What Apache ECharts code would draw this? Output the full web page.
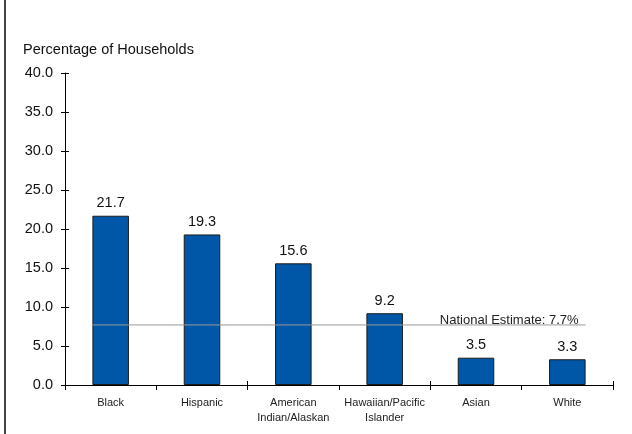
<!DOCTYPE html>
<html>
<head>
<meta charset="utf-8">
<script src="https://cdn.jsdelivr.net/npm/echarts@6/dist/echarts.min.js"></script>
<style>
html,body{margin:0;padding:0;background:#fff;}
#chart{width:632px;height:434px;}
</style>
</head>
<body>
<div id="chart"></div>
<script>
const categories = ['Black', 'Hispanic', 'American\nIndian/Alaskan', 'Hawaiian/Pacific\nIslander', 'Asian', 'White'];
const values = [21.7, 19.3, 15.6, 9.2, 3.5, 3.3];
const nationalEstimate = 7.7;
const nationalLabel = 'National Estimate: 7.7%';
const yTitle = 'Percentage of Households';
const yMin = 0, yMax = 40, yInterval = 5;

const barFrac = 0.4;
const lineStart = -barFrac / 2;
const lineEnd = categories.length - 1 + barFrac / 2;

const FONT = 'Liberation Sans, Arial, sans-serif';
const chart = echarts.init(document.getElementById('chart'));
chart.setOption({
  animation: false,
  backgroundColor: '#fff',
  textStyle: { fontFamily: FONT },
  title: {
    text: yTitle, left: 18, top: 37,
    textStyle: { fontFamily: FONT, fontSize: 14.5, fontWeight: 'normal', color: '#111' }
  },
  graphic: [{
    type: 'line', shape: { x1: 5, y1: 0, x2: 5, y2: 434 },
    style: { stroke: '#444', lineWidth: 2 }
  }],
  grid: { left: 65, right: 19, top: 73, bottom: 49 },
  xAxis: [
    {
      type: 'category', data: categories, position: 'bottom',
      axisLine: { onZero: false, lineStyle: { color: '#000', width: 1 } },
      axisTick: { show: true, length: 5, alignWithLabel: false, lineStyle: { color: '#000' } },
      axisLabel: { fontFamily: FONT, fontSize: 11, color: '#222', margin: 10, lineHeight: 15, interval: 0 }
    },
    {
      type: 'category', data: categories, position: 'bottom',
      axisLine: { show: false, onZero: false },
      axisTick: { show: true, inside: true, length: 4, lineStyle: { color: '#000' } },
      axisLabel: { show: false }
    },
    {
      type: 'value', min: -0.5, max: categories.length - 0.5, show: false,
      axisLine: { onZero: false }
    }
  ],
  yAxis: [
    {
      type: 'value', min: yMin, max: yMax, interval: yInterval, position: 'left',
      axisLine: { show: true, onZero: false, lineStyle: { color: '#000', width: 1 } },
      axisTick: { show: true, length: 4, lineStyle: { color: '#000' } },
      axisLabel: { fontFamily: FONT, fontSize: 14.5, color: '#111', margin: 12, formatter: v => v.toFixed(1) },
      splitLine: { show: false }
    },
    {
      type: 'value', min: yMin, max: yMax, interval: yInterval, position: 'left',
      axisLine: { show: false, onZero: false },
      axisTick: { show: true, inside: true, length: 4, lineStyle: { color: '#000' } },
      axisLabel: { show: false },
      splitLine: { show: false }
    }
  ],
  series: [
    {
      type: 'bar', data: values, xAxisIndex: 0, yAxisIndex: 0,
      barWidth: (barFrac * 100) + '%',
      itemStyle: { color: '#0057a8', borderColor: '#1a1a1a', borderWidth: 1 },
      label: {
        show: true, position: 'top', distance: 5, fontFamily: FONT, fontSize: 14.5, color: '#111',
        formatter: p => p.value.toFixed(1)
      },
      z: 2
    },
    {
      type: 'line', xAxisIndex: 2, yAxisIndex: 0,
      symbol: 'circle', symbolSize: 0, silent: true,
      lineStyle: { color: '#999', width: 1 },
      data: [
        { value: [lineStart, nationalEstimate] },
        { value: [lineEnd, nationalEstimate],
          label: { show: true, position: 'top', align: 'right', distance: -2, offset: [-7, 0],
                   formatter: nationalLabel, fontFamily: FONT, fontSize: 13, color: '#222' } }
      ],
      z: 3
    }
  ]
});
</script>
</body>
</html>
